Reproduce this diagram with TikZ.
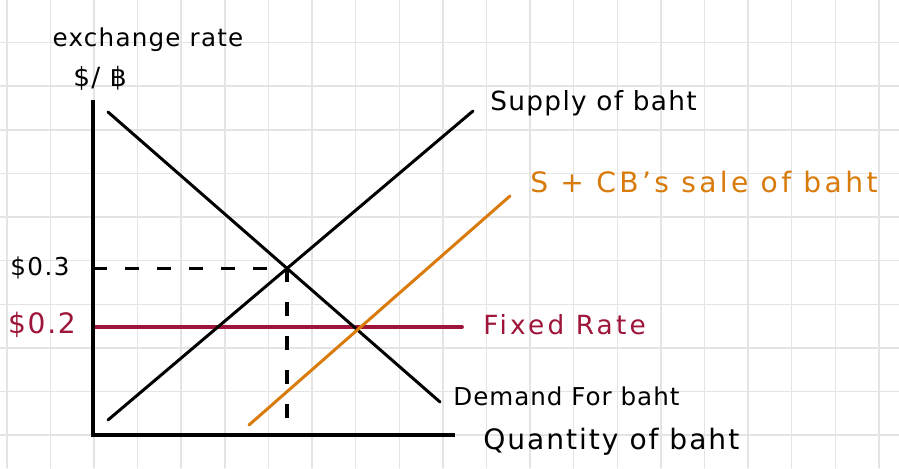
\documentclass[tikz,border=0pt]{standalone}
\usepackage{fontspec}
\setmainfont{DejaVu Sans}
\definecolor{cbsale}{HTML}{D97B0B}
\definecolor{fixrate}{HTML}{9E1539}
\definecolor{gridgrey}{HTML}{E4E4E4}

\begin{document}
\begin{tikzpicture}[x=0.02cm, y=0.02cm, line cap=round,
    curve/.style={line width=1.7pt},
    guide/.style={line width=1.9pt, line cap=butt, dash pattern=on 0.28cm off #1},
    hand/.style 2 args={font=\fontsize{#1}{#1}\selectfont\addfontfeatures{LetterSpace=#2}, inner sep=0pt}]
  \useasboundingbox[fill=white] (-93,-33) rectangle (806,435);
  % quadrillage du cahier
  \begin{scope}[gridgrey, line width=0.8pt]
    \clip (-93,-33) rectangle (806,435);
    \foreach \i in {-2,...,18} \draw (1+43.6*\i,-33) -- (1+43.6*\i,435);
    \foreach \j in {0,...,9} \draw (-93,43.6*\j) -- (806,43.6*\j);
  \end{scope}
  % points des courbes
  \coordinate (O) at (0,0);
  \coordinate (ytop) at (0,335);
  \coordinate (xend) at (362,0);
  \coordinate (d1) at (15,323);
  \coordinate (d2) at (347,33);
  \coordinate (s1) at (15,15);
  \coordinate (s2) at (380,324);
  \coordinate (c1) at (156,10);
  \coordinate (c2) at (417,239);
  \coordinate (f1) at (0,108);
  \coordinate (f2) at (369,108);
  \coordinate (eq) at (intersection of d1--d2 and s1--s2);
  \coordinate (eqy) at (O |- eq);
  \coordinate (eqx) at (eq |- c1);
  \draw[guide=0.36cm] (eqy) -- (eq);
  \draw[guide=0.4cm] (eq) -- (eqx);
  \draw[fixrate, line width=2.2pt] (f1) -- (f2);
  \draw[curve] (d1) -- (d2);
  \draw[curve] (s1) -- (s2);
  \draw[cbsale, curve] (c1) -- (c2);
  \draw[line width=2.2pt, line cap=butt] (ytop) -- (O) -- (xend);
  % etiquettes
  \node[hand={14}{5}] (ylbl) at (55,395) {exchange rate};
  \node[hand={15}{5}] (yunit) at (7,357) {\$/ ฿};
  \node[hand={14}{6}] (p3) at (-53,167) {\$0.3};
  \node[hand={16}{6}, fixrate] (p2) at (-51,110) {\$0.2};
  \node[hand={15}{5}, right] (slbl) at (397,332) {Supply of baht};
  \node[hand={16}{12}, right, cbsale] (cblbl) at (437,253) {S + CB's sale of baht};
  \node[hand={15}{12}, right, fixrate] (flbl) at (390,110) {Fixed Rate};
  \node[hand={14}{4}, right] (dlbl) at (360,39) {Demand For baht};
  \node[hand={16}{7}, right] (xlbl) at (390,-7) {Quantity of baht};
\end{tikzpicture}
\end{document}
